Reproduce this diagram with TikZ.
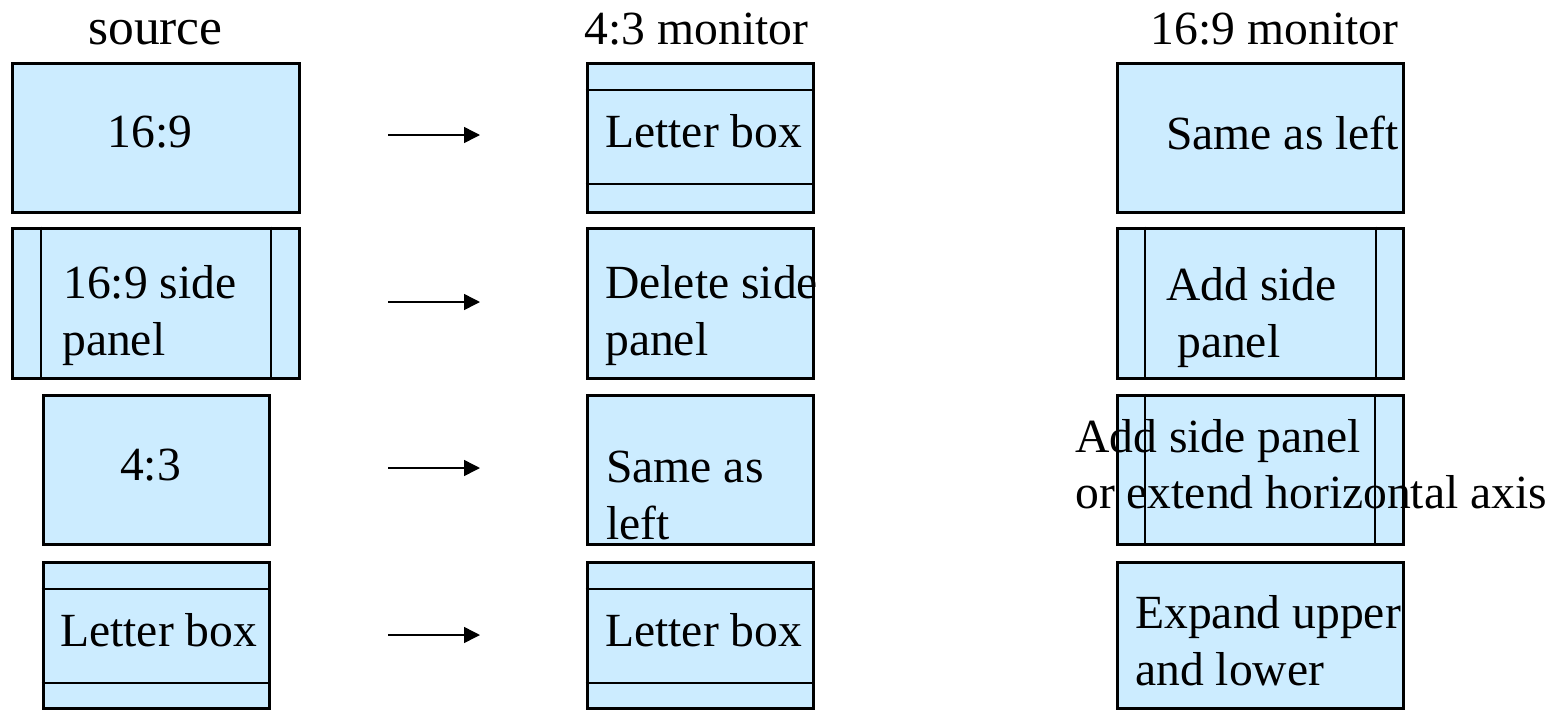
\documentclass[tikz,border=0pt]{standalone}
\usepackage{fontspec}
\setmainfont{Liberation Serif}
\usetikzlibrary{arrows.meta}
\definecolor{screenfill}{RGB}{204,236,255}
\tikzset{
  screen/.style={draw=black, fill=screenfill, line width=3pt, rectangle,
    inner sep=0pt, anchor=north west},
  bar/.style={draw=black, line width=1.3pt},
  lbl/.style={inner sep=0pt, anchor=base west, font=\fontsize{47.6}{57}\selectfont},
  head/.style={inner sep=0pt, anchor=base, font=\fontsize{47.6}{57}\selectfont},
  conv/.style={draw=black, line width=1.5pt, -{Triangle[length=16pt,width=16pt]}}
}
\begin{document}
\begin{tikzpicture}[x=1pt,y=-1pt]
\useasboundingbox (0,0) rectangle (1559,710);

% column headings
\node[head, font=\fontsize{51.5}{62}\selectfont] (hsrc) at (155.5,44) {source};
\node[head] (h43) at (696.5,44) {4:3 monitor};
\node[head] (h169) at (1274.5,44) {16:9 monitor};

% source column
\node[screen, minimum width=287.5pt, minimum height=149pt] (s1) at (10.5,61.5) {};
\node[screen, minimum width=287.5pt, minimum height=150pt] (s2) at (10.5,226.5) {};
\node[screen, minimum width=226pt, minimum height=149pt] (s3) at (41.5,393.5) {};
\node[screen, minimum width=226pt, minimum height=146.5pt] (s4) at (41.5,560.5) {};
\draw[bar] ([xshift=30.5pt]s2.north west) -- ([xshift=30.5pt]s2.south west);
\draw[bar] ([xshift=-30pt]s2.north east) -- ([xshift=-30pt]s2.south east);
\draw[bar] ([yshift=-28.5pt]s4.north west) -- ([yshift=-28.5pt]s4.north east);
\draw[bar] ([yshift=27pt]s4.south west) -- ([yshift=27pt]s4.south east);

% 4:3 monitor column
\node[screen, minimum width=226pt, minimum height=149pt] (m1) at (585.5,61.5) {};
\node[screen, minimum width=226pt, minimum height=150pt] (m2) at (585.5,226.5) {};
\node[screen, minimum width=226pt, minimum height=149pt] (m3) at (585.5,393.5) {};
\node[screen, minimum width=226pt, minimum height=146.5pt] (m4) at (585.5,560.5) {};
\draw[bar] ([yshift=-28.5pt]m1.north west) -- ([yshift=-28.5pt]m1.north east);
\draw[bar] ([yshift=29.5pt]m1.south west) -- ([yshift=29.5pt]m1.south east);
\draw[bar] ([yshift=-28.5pt]m4.north west) -- ([yshift=-28.5pt]m4.north east);
\draw[bar] ([yshift=27pt]m4.south west) -- ([yshift=27pt]m4.south east);

% 16:9 monitor column
\node[screen, minimum width=286pt, minimum height=149pt] (w1) at (1115.5,61.5) {};
\node[screen, minimum width=286pt, minimum height=150pt] (w2) at (1115.5,226.5) {};
\node[screen, minimum width=286pt, minimum height=149pt] (w3) at (1115.5,393.5) {};
\node[screen, minimum width=286pt, minimum height=146.5pt] (w4) at (1115.5,560.5) {};
\draw[bar] ([xshift=29.5pt]w2.north west) -- ([xshift=29.5pt]w2.south west);
\draw[bar] ([xshift=-28.5pt]w2.north east) -- ([xshift=-28.5pt]w2.south east);
\draw[bar] ([xshift=29.5pt]w3.north west) -- ([xshift=29.5pt]w3.south west);
\draw[bar] ([xshift=-29.5pt]w3.north east) -- ([xshift=-29.5pt]w3.south east);

% conversion arrows
\coordinate (a1s) at (388,135); \coordinate (a1e) at (480,135);
\coordinate (a2s) at (388,302); \coordinate (a2e) at (480,302);
\coordinate (a3s) at (388,468); \coordinate (a3e) at (480,468);
\coordinate (a4s) at (388,635); \coordinate (a4e) at (480,635);
\draw[conv] (a1s) -- (a1e);
\draw[conv] (a2s) -- (a2e);
\draw[conv] (a3s) -- (a3e);
\draw[conv] (a4s) -- (a4e);

% labels: source column
\node[head] (t11) at (150,147) {16:9};
\node[lbl] (t12a) at (63,298) {16:9 side};
\node[lbl] (t12b) at (62,355) {panel};
\node[head] (t13) at (150.5,480) {4:3};
\node[lbl] (t14) at (60,646) {Letter box};

% labels: 4:3 monitor column
\node[lbl] (t21) at (605,147) {Letter box};
\node[lbl] (t22a) at (605,298) {Delete side};
\node[lbl] (t22b) at (605,355) {panel};
\node[lbl] (t23a) at (606,482) {Same as};
\node[lbl] (t23b) at (606,539) {left};
\node[lbl] (t24) at (605,646) {Letter box};

% labels: 16:9 monitor column
\node[lbl] (t31) at (1166,149) {Same as left};
\node[lbl] (t32a) at (1166,300) {Add side};
\node[lbl] (t32b) at (1177,357) {panel};
\node[lbl] (t33a) at (1075,452) {Add side panel};
\node[lbl] (t33b) at (1075,508) {or extend horizontal axis};
\node[lbl] (t34a) at (1135,628) {Expand upper};
\node[lbl] (t34b) at (1135,685) {and lower};
\end{tikzpicture}
\end{document}
